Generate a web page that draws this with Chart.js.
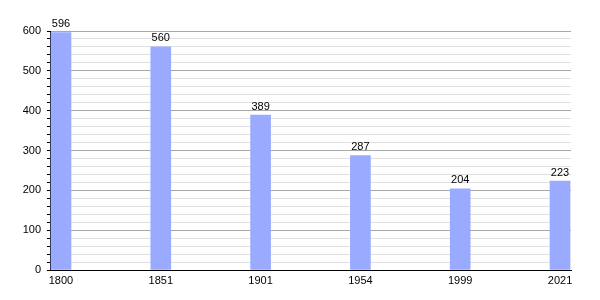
<!DOCTYPE html>
<html>
<head>
<meta charset="utf-8">
<script src="https://cdn.jsdelivr.net/npm/chart.js@4/dist/chart.umd.min.js"></script>
<style>
  html, body { margin: 0; padding: 0; background: #fff; }
  canvas { display: block; }
</style>
</head>
<body>
<canvas id="popChart" width="600" height="300"></canvas>
<script>
const years = ['1800', '1851', '1901', '1954', '1999', '2021'];
const population = [596, 560, 389, 287, 204, 223];
const yTicks = [0, 100, 200, 300, 400, 500, 600];

// labels above each bar
const valueLabels = {
  id: 'valueLabels',
  afterDatasetsDraw(chart) {
    const ctx = chart.ctx;
    const meta = chart.getDatasetMeta(0);
    ctx.save();
    ctx.font = '11px "Liberation Sans", Arial, sans-serif';
    ctx.fillStyle = '#000';
    ctx.textAlign = 'center';
    ctx.textBaseline = 'bottom';
    meta.data.forEach((bar, i) => {
      ctx.fillText(String(population[i]), bar.x, bar.y - 3);
    });
    ctx.restore();
  }
};

new Chart(document.getElementById('popChart'), {
  type: 'bar',
  data: {
    datasets: [{
      data: population.map((v, i) => ({ x: i, y: v })),
      backgroundColor: '#99aaff',
      barThickness: 20,
      borderWidth: 0
    }]
  },
  options: {
    responsive: false,
    animation: false,
    layout: { padding: { top: 31, right: 29, left: 0, bottom: 0 } },
    plugins: { legend: { display: false }, tooltip: { enabled: false } },
    scales: {
      x: {
        type: 'linear',
        offset: false,
        min: -0.11,
        max: 5.11,
        afterBuildTicks: s => { s.ticks = years.map((_, i) => ({ value: i })); },
        afterFit: s => { s.height = 30; },
        grid: { display: false },
        border: { display: true, color: '#000', width: 1 },
        ticks: {
          padding: -4,
          color: '#000',
          font: { family: '"Liberation Sans", Arial, sans-serif', size: 11 },
          callback: v => years[v]
        }
      },
      y: {
        min: 0,
        max: 600,
        afterFit: s => { s.width = 50; },
        border: { display: true, color: '#000', width: 1 },
        grid: {
          color: c => (c.tick && c.tick.value % 100 === 0) ? '#a8a8a8' : '#e0e0e0',
          tickColor: '#000',
          tickLength: 3
        },
        ticks: {
          stepSize: 20,
          autoSkip: false,
          padding: 6,
          color: '#000',
          font: { family: '"Liberation Sans", Arial, sans-serif', size: 11 },
          callback: v => yTicks.includes(v) ? String(v) : ''
        }
      }
    }
  },
  plugins: [valueLabels]
});
</script>
</body>
</html>
